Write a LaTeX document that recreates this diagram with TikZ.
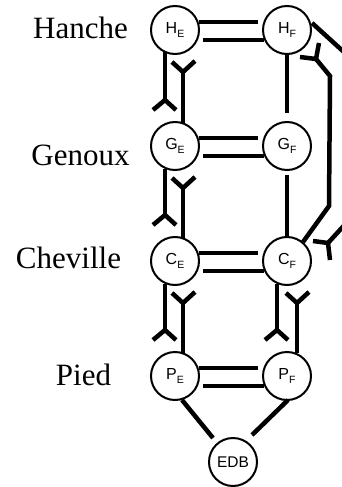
\documentclass[tikz,border=0pt]{standalone}
\usepackage{fontspec}
\setmainfont{Liberation Serif}
\newfontfamily\lsans{Liberation Sans}
\usetikzlibrary{calc}
\newcommand\jlab[2]{{\lsans\fontsize{16}{16}\selectfont #1\raisebox{-4pt}{\fontsize{10.5}{10.5}\selectfont #2}}}
\begin{document}
\begin{tikzpicture}[x=1pt,y=-1pt,
  joint/.style={circle, draw, line width=2pt, minimum size=48pt, inner sep=0pt, fill=white},
  conn/.style={line width=4.5pt},
  forkline/.style={line width=4.5pt, line join=round},
  rowlabel/.style={anchor=base, inner sep=0pt, font=\fontsize{31}{31}\selectfont}]
\useasboundingbox (0,0) rectangle (342,487);
\clip (0,0) rectangle (342,487);

% labels
\node[rowlabel] (lh) at (80.5,38) {Hanche};
\node[rowlabel] (lg) at (80.5,165) {Genoux};
\node[rowlabel] (lc) at (68.5,268) {Cheville};
\node[rowlabel] (lp) at (83.5,385) {Pied};

% joints
\node[joint] (HE) at (175,30) {\jlab{H}{E}};
\node[joint] (HF) at (287,30) {\jlab{H}{F}};
\node[joint] (GE) at (175,146) {\jlab{G}{E}};
\node[joint] (GF) at (287,146) {\jlab{G}{F}};
\node[joint] (CE) at (175,261) {\jlab{C}{E}};
\node[joint] (CF) at (287,261) {\jlab{C}{F}};
\node[joint] (PE) at (175,376) {\jlab{P}{E}};
\node[joint] (PF) at (287,376) {\jlab{P}{F}};
\node[joint] (EDB) at (233,462) {{\lsans\fontsize{15.5}{15.5}\selectfont EDB}};

% horizontal double lines
\foreach \a/\b in {HE/HF,GE/GF,CE/CF,PE/PF}{
  \draw[conn] ($(\a)+(23.5,-8)$) -- ($(\b)+(-29,-8)$);
  \draw[conn] ($(\a)+(28,10)$) -- ($(\b)+(-23,10)$);
}

% vertical pairs with forks
\foreach \u/\l/\dr in {HE/GE/8,GE/CE/8,CE/PE/8,CF/PF/10}{
  \draw[conn] ($(\u)+(-10,22.5)$) -- ($(\l)+(-10,-46)$);
  \draw[forkline] ($(\l)+(-22,-36)$) -- ($(\l)+(-10,-46)$) -- ($(\l)+(1,-36)$);
  \draw[conn] ($(\l)+(\dr,-23.5)$) -- ($(\u)+(\dr,42)$);
  \draw[forkline] ($(\u)+(\dr-11,32)$) -- ($(\u)+(\dr,42)$) -- ($(\u)+(\dr+12,31)$);
}

% F side single lines
\draw[conn] ($(HF)+(0,24)$) -- ($(GF)+(0,-33)$);
\draw[conn] ($(GF)+(0,29)$) -- ($(CF)+(0,-24)$);

% outer right connectors
\draw[conn] ($(HF)+(25,-7)$) -- ($(HF)+(80,43)$);
\draw[conn, line join=miter] ($(CF)+(16,-19)$) -- ($(CF)+(42,-55)$) -- ($(HF)+(43,46)$) -- ($(HF)+(29,29)$);
\draw[forkline] ($(HF)+(13,27)$) -- ($(HF)+(29,29)$) -- ($(HF)+(32,13)$);
\draw[conn] ($(CF)+(43,-1)$) -- ($(CF)+(41,-18)$);
\draw[forkline] ($(CF)+(26,-20)$) -- ($(CF)+(41,-18)$) -- ($(CF)+(63,-42)$);

% to EDB
\draw[conn] ($(PE)+(7,24)$) -- ($(EDB)+(-20,-24)$);
\draw[conn] ($(PF)+(1,24)$) -- ($(EDB)+(19,-27)$);
\end{tikzpicture}
\end{document}
